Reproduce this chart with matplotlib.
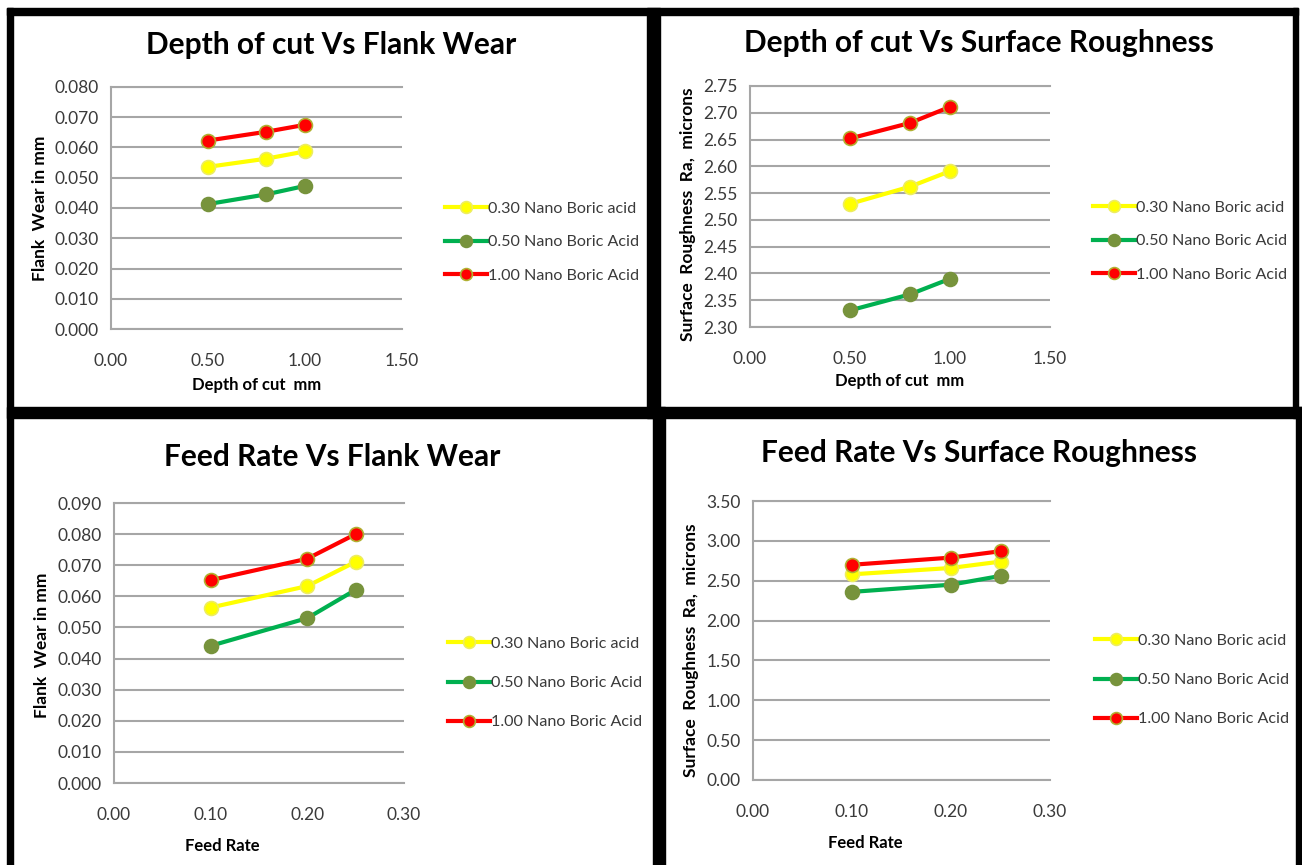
import matplotlib
matplotlib.use("Agg")
import matplotlib.pyplot as plt
from matplotlib.patches import Rectangle

# ---- data ----
series_names = ["0.30 Nano Boric acid", "0.50 Nano Boric Acid", "1.00 Nano Boric Acid"]

depth_of_cut = [0.5, 0.8, 1.0]
feed_rate = [0.1, 0.2, 0.25]

doc_wear = [
    [0.0536, 0.0563, 0.0587],
    [0.0413, 0.0445, 0.0473],
    [0.0623, 0.0652, 0.0675],
]
doc_rough = [
    [2.530, 2.562, 2.591],
    [2.331, 2.361, 2.390],
    [2.652, 2.681, 2.711],
]
feed_wear = [
    [0.0564, 0.0633, 0.0711],
    [0.0441, 0.0530, 0.0621],
    [0.0652, 0.0721, 0.0800],
]
feed_rough = [
    [2.58, 2.66, 2.74],
    [2.36, 2.45, 2.56],
    [2.70, 2.79, 2.87],
]

line_colors = ["#FFFF00", "#00B050", "#FF0000"]
marker_faces = ["#FFFF00", "#77933C", "#FF0000"]
marker_edges = ["#EDED60", "#77933C", "#B0B030"]

W, H = 1302, 865
FONT = "Lato"
TICK_COLOR = "#3A3A3A"
GRID_COLOR = "#A6A6A6"

fig = plt.figure(figsize=(W / 100, H / 100), dpi=100, facecolor="white")


def fx(x):
    return x / W


def fy(y):
    return 1 - y / H


def make_panel(box, x, ys, xlim, xstep, ylim, ystep, xfmt, yfmt,
               title, title_pos, xlabel, xlabel_pos, ylabel, ylabel_pos,
               leg_x, leg_y, leg_space):
    l, r, t, b = box
    ax = fig.add_axes([fx(l), fy(b), fx(r - l), (b - t) / H])
    for i, vals in enumerate(ys):
        ax.plot(x, vals, color=line_colors[i], lw=3, marker="o", ms=10,
                mfc=marker_faces[i], mec=marker_edges[i], mew=1.2,
                label=series_names[i], zorder=3)
    ax.set_xlim(*xlim)
    ax.set_ylim(*ylim)
    nx = int(round((xlim[1] - xlim[0]) / xstep))
    ny = int(round((ylim[1] - ylim[0]) / ystep))
    ax.set_xticks([xlim[0] + k * xstep for k in range(nx + 1)])
    ax.set_yticks([ylim[0] + k * ystep for k in range(ny + 1)])
    ax.set_xticklabels([xfmt.format(xlim[0] + k * xstep) for k in range(nx + 1)])
    ax.set_yticklabels([yfmt.format(ylim[0] + k * ystep) for k in range(ny + 1)])
    ax.tick_params(length=0, labelsize=12.5, colors=TICK_COLOR)
    ax.tick_params(axis="x", pad=17)
    ax.tick_params(axis="y", pad=9)
    for lab in ax.get_xticklabels() + ax.get_yticklabels():
        lab.set_fontfamily(FONT)
    ax.grid(axis="y", color=GRID_COLOR, lw=1.5)
    ax.set_axisbelow(True)
    for s in ["top", "bottom", "left"]:
        ax.spines[s].set_color(GRID_COLOR)
        ax.spines[s].set_linewidth(1.5)
    ax.spines["right"].set_visible(False)

    fig.text(fx(title_pos[0]), fy(title_pos[1]), title, ha="center", va="center",
             fontsize=21.5, fontweight="bold", family=FONT, color="black")
    fig.text(fx(xlabel_pos[0]), fy(xlabel_pos[1]), xlabel, ha="center", va="center",
             fontsize=12, fontweight="bold", family=FONT, color="black")
    fig.text(fx(ylabel_pos[0]), fy(ylabel_pos[1]), ylabel, ha="center", va="center",
             rotation=90, fontsize=12.5, fontweight="bold", family=FONT, color="black")

    handles, labels = ax.get_legend_handles_labels()
    leg = ax.legend(handles, labels, loc="center left",
                    bbox_to_anchor=(fx(leg_x), fy(leg_y)),
                    bbox_transform=fig.transFigure, frameon=False,
                    prop={"family": FONT, "size": 11.6},
                    handlelength=2.6, handletextpad=0.05, borderpad=0,
                    borderaxespad=0, labelspacing=leg_space, markerscale=0.85)
    for txt in leg.get_texts():
        txt.set_color(TICK_COLOR)
    return ax


make_panel((111, 402, 87, 329), depth_of_cut, doc_wear, (0, 1.5), 0.5,
           (0, 0.08), 0.01, "{:.2f}", "{:.3f}",
           "Depth of cut Vs Flank Wear", (331, 45),
           "Depth of cut  mm", (257, 385), "Flank  Wear in mm", (40, 208),
           445, 242, 1.2)

make_panel((750, 1050, 86, 327), depth_of_cut, doc_rough, (0, 1.5), 0.5,
           (2.30, 2.75), 0.05, "{:.2f}", "{:.2f}",
           "Depth of cut Vs Surface Roughness", (979, 43),
           "Depth of cut  mm", (900, 381), "Surface  Roughness  Ra,  microns", (688, 214),
           1093, 241, 1.2)

make_panel((114, 404, 503, 783), feed_rate, feed_wear, (0, 0.3), 0.1,
           (0, 0.09), 0.01, "{:.2f}", "{:.3f}",
           "Feed Rate Vs Flank Wear", (332, 457),
           "Feed Rate", (222, 846), "Flank  Wear in mm", (42, 645),
           448, 683, 1.55)

make_panel((753, 1050, 501, 780), feed_rate, feed_rough, (0, 0.3), 0.1,
           (0, 3.5), 0.5, "{:.2f}", "{:.2f}",
           "Feed Rate Vs Surface Roughness", (979, 453),
           "Feed Rate", (865, 843), "Surface  Roughness  Ra,  microns", (691, 650),
           1095, 680, 1.55)

# thick black panel borders (pixel boxes: x0, y0, x1, y1)
border_boxes = [
    (7, 8, 1298, 15),
    (7, 8, 13, 865),
    (7, 407, 1302, 418),
    (647, 8, 660, 418),
    (653, 407, 665, 865),
    (1293, 8, 1298, 418),
    (1296, 407, 1302, 865),
]
for x0, y0, x1, y1 in border_boxes:
    fig.patches.append(Rectangle((fx(x0), fy(y1)), fx(x1 - x0), (y1 - y0) / H,
                                 transform=fig.transFigure, color="black", zorder=10))

fig.savefig("out.png", dpi=100, facecolor="white")
